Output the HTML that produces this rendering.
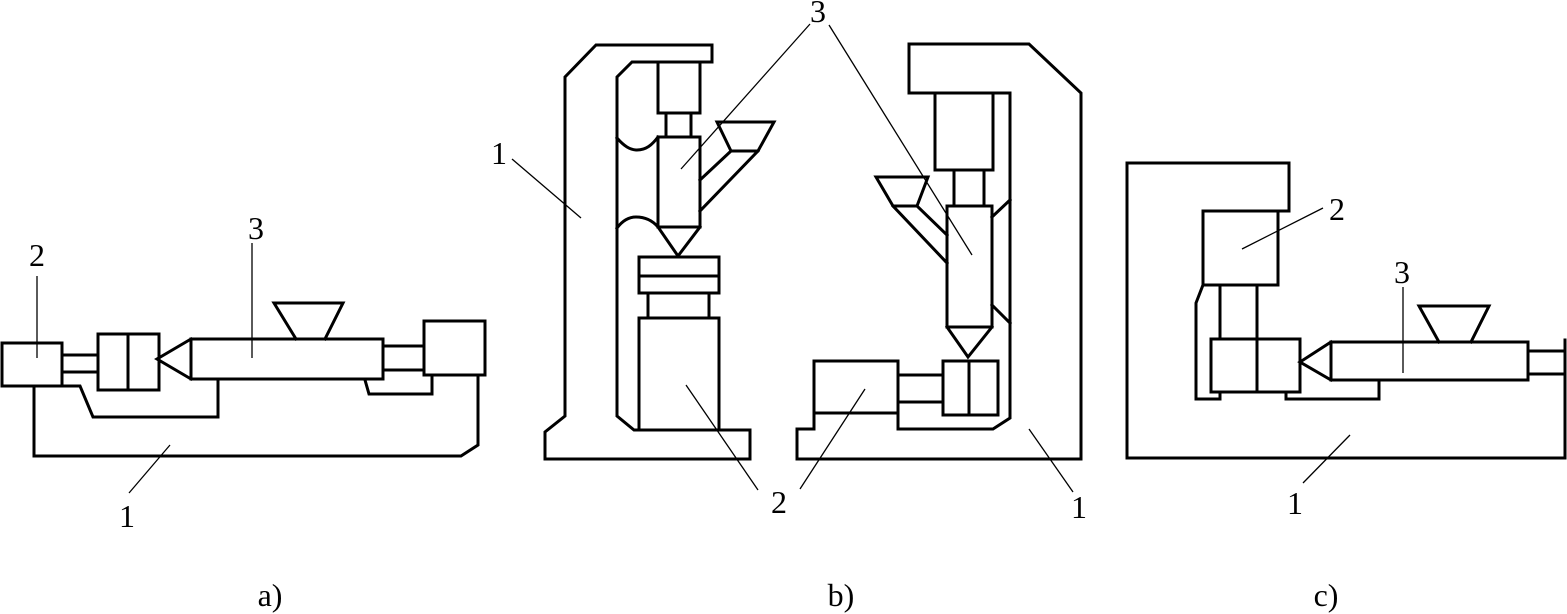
<!DOCTYPE html>
<html>
<head>
<meta charset="utf-8">
<style>
html,body{margin:0;padding:0;background:#fff;width:1567px;height:614px;overflow:hidden}
svg{display:block}
.s{fill:none;stroke:#000;stroke-width:3;stroke-linejoin:miter;stroke-linecap:square}
.l{fill:none;stroke:#000;stroke-width:1.3}
text{font-family:"Liberation Serif",serif;font-size:32px;fill:#000;text-anchor:middle}
</style>
</head>
<body>
<svg width="1567" height="614" viewBox="0 0 1567 614" xmlns="http://www.w3.org/2000/svg">
<rect width="1567" height="614" fill="#fff"/>

<!-- a) -->
<g class="s">
<rect x="2" y="343" width="60" height="43"/>
<path d="M62 355H98M62 372H98"/>
<rect x="98" y="334" width="61" height="56"/>
<path d="M128 334V390"/>
<path d="M191 339L157 359L191 379"/>
<rect x="191" y="339" width="192" height="40"/>
<path d="M296 339L274 303H343L325 339"/>
<path d="M383 346H424M383 370H424"/>
<rect x="424" y="321" width="61" height="54"/>
<path d="M365 380L369 394H432V375"/>
<path d="M62 386H80L93 417H218V379"/>
<path d="M34 386V456H461L478 445V375"/>
</g>
<g class="l">
<path d="M37 276V358"/>
<path d="M252 243V358"/>
<path d="M129 493L170 445"/>
</g>
<text x="37" y="266">2</text>
<text x="256" y="239">3</text>
<text x="127" y="527">1</text>
<text x="270" y="606">a)</text>

<!-- b) left -->
<g class="s">
<path d="M565 416V77L596 45H712V62H632L617 77V416L634 430H750V459H545V432Z"/>
<rect x="658" y="62" width="42" height="51"/>
<path d="M666 113V137M691 113V137"/>
<rect x="658" y="137" width="42" height="90"/>
<path d="M658 227L678 256L700 227"/>
<path d="M617 138C624 146 630 150 637 150C646 150 652 145 658 137"/>
<path d="M617 228C623 220 629 217 636 217C645 217 652 220 658 227"/>
<path d="M700 180L731 151L717 122H774L758 151H731M758 151L700 211"/>
<rect x="639" y="257" width="80" height="36"/>
<path d="M639 276H719"/>
<path d="M648 293V318M709 293V318"/>
<rect x="639" y="318" width="80" height="112"/>
</g>
<g class="l">
<path d="M810 24L681 169"/>
<path d="M512 159L581 218"/>
<path d="M686 385L758 490"/>
</g>
<text x="818" y="22">3</text>
<text x="499" y="164">1</text>
<text x="779" y="513">2</text>
<text x="841" y="606">b)</text>

<!-- b) right -->
<g class="s">
<path d="M909 44H1029L1081 93V459H797V429H814V361H898V429H993L1010 418V93H909Z"/>
<rect x="935" y="93" width="58" height="77"/>
<path d="M954 170V206M984 170V206"/>
<rect x="947" y="206" width="45" height="121"/>
<path d="M947 327L968 357L992 327"/>
<path d="M947 235L917 206L928 177H876L893 206H917M893 206L947 263"/>
<path d="M992 217L1010 200M992 305L1010 323"/>
<rect x="943" y="361" width="55" height="54"/>
<path d="M969 361V415"/>
<path d="M899 375H943M899 402H943"/>
<path d="M814 413H898"/>
</g>
<g class="l">
<path d="M829 25L972 255"/>
<path d="M865 389L800 489"/>
<path d="M1029 429L1073 492"/>
</g>
<text x="1079" y="518">1</text>

<!-- c) -->
<g class="s">
<path d="M1565 340V458H1127V163H1289V211H1203"/>
<rect x="1203" y="211" width="75" height="74"/>
<path d="M1203 285L1196 303V399H1220V393"/>
<path d="M1220 285V339M1257 285V339"/>
<rect x="1211" y="339" width="89" height="53"/>
<path d="M1257 339V392"/>
<path d="M1286 392V399H1379V380"/>
<path d="M1331 342L1300 362L1331 380"/>
<rect x="1331" y="342" width="197" height="38"/>
<path d="M1439 342L1419 306H1489L1471 342"/>
<path d="M1528 351H1565M1528 374H1565"/>
</g>
<g class="l">
<path d="M1323 208L1242 249"/>
<path d="M1403 287V373"/>
<path d="M1350 435L1303 483"/>
</g>
<text x="1337" y="220">2</text>
<text x="1402" y="283">3</text>
<text x="1295" y="514">1</text>
<text x="1326" y="606">c)</text>
</svg>
</body>
</html>
